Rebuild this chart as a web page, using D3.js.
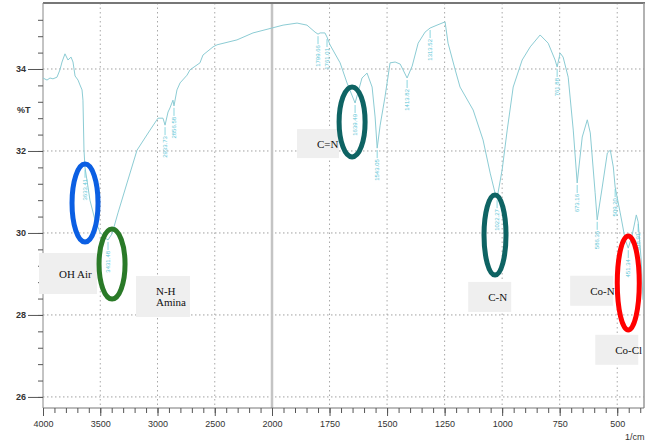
<!DOCTYPE html>
<html>
<head>
<meta charset="utf-8">
<script src="https://cdn.jsdelivr.net/npm/d3@7"></script>
<style>
  body { margin: 0; background: #fff; }
  svg { display: block; }
</style>
</head>
<body>
<div id="graph"></div>
<script>
// spectrum (wavenumber 1/cm, %T)
const wavenumbers = [4000, 3965, 3939, 3913, 3878, 3852, 3834, 3808, 3782, 3755, 3738, 3720, 3694, 3677, 3659, 3651,
  3642, 3633, 3616, 3590, 3546, 3502, 3458, 3432, 3397, 3345, 3266, 3179, 3065, 2996, 2952, 2934, 2908, 2891, 2865,
  2856, 2830, 2803, 2742, 2716, 2629, 2603, 2515, 2480, 2306, 2166, 2000, 1952, 1891, 1848, 1813, 1800, 1791, 1770,
  1761, 1748, 1704, 1674, 1639, 1609, 1587, 1565, 1552, 1543, 1530, 1509, 1487, 1465, 1443, 1413, 1391, 1365, 1335,
  1313, 1283, 1248, 1235, 1204, 1183, 1126, 1083, 1052, 1031, 1022, 1000, 978, 952, 913, 878, 835, 800, 770, 761,
  748, 735, 713, 691, 674, 652, 630, 617, 596, 587, 565, 543, 530, 517, 509, 487, 465, 452, 435, 417, 409, 396, 388]
const transmittance = [33.78, 33.73, 33.78, 33.76, 33.80, 33.98, 34.17, 34.37, 34.22, 34.29, 34.17, 33.83, 33.73, 33.61, 33.49, 33.24,
  32.02, 31.59, 31.29, 30.80, 30.32, 30.02, 29.88, 29.83, 29.98, 30.49, 31.22, 32.02, 32.51, 32.80, 32.80, 32.63, 32.95, 33.05, 33.24,
  33.10, 33.49, 33.66, 33.85, 33.98, 34.15, 34.34, 34.54, 34.59, 34.71, 34.88, 35.00, 35.07, 35.12, 35.07, 34.90, 34.85, 34.88, 34.88,
  34.78, 34.59, 34.15, 33.66, 33.17, 33.78, 33.90, 33.56, 32.83, 32.07, 32.63, 33.32, 34.15, 34.17, 34.12, 33.78, 34.07, 34.63, 34.90,
  35.00, 35.07, 35.15, 34.63, 33.98, 33.56, 33.00, 32.27, 31.46, 30.98, 30.85, 31.54, 32.51, 33.56, 34.22, 34.54, 34.83, 34.63, 34.22, 34.05,
  34.39, 34.29, 33.80, 32.51, 31.22, 32.34, 32.76, 32.44, 30.98, 30.32, 31.12, 31.95, 32.02, 31.61, 31.12, 30.49, 29.83, 29.63, 29.95, 30.44, 30.27, 29.34, 28.37]

// peak picks printed by the instrument
const peakWn = [3633, 3432, 2934, 2856, 1800, 1761, 1639, 1543, 1413, 1313, 1022, 761, 674, 587, 509, 452, 409]
const peakT = [31.59, 29.83, 32.63, 33.10, 34.85, 34.78, 33.17, 32.07, 33.78, 35.00, 30.85, 34.05, 31.22, 30.32, 31.12, 29.63, 30.27]
const peakText = ['3633.41', '3431.48', '2933.73', '2856.58', '1799.66', '1761.01', '1639.49', '1543.05',
  '1413.82', '1313.52', '1022.27', '761.88', '673.16', '586.36', '509.20', '451.34', '408.91']

// band assignments
const bandText = [['OH Air'], ['N-H', 'Amina'], ['C=N'], ['C-N'], ['Co-N'], ['Co-Cl']]
const bandWn = [3782, 2952, 1800, 1054, 611, 502]
const bandT = [29.01, 28.45, 32.18, 28.44, 28.59, 27.15]
const bandSize = [[58, 41], [54, 41], [42, 29], [43, 30], [43, 30], [43, 30]]

// rings drawn over the bands
const ringWn = [3633, 3397, 1652, 1031, 452]
const ringT = [30.73, 29.24, 32.71, 29.95, 28.78]
const ringR = [[13, 39], [13, 35], [13, 35], [11, 40], [11, 47]]
const ringColour = ['#0b5fe3', '#2a7a28', '#0e6363', '#0e6363', '#ff0000']

const xMajor = [4000, 3500, 3000, 2500, 2000, 1750, 1500, 1250, 1000, 750, 500]
const yMajor = [26, 28, 30, 32, 34]

const width = 654, height = 447
const plotL = 43, plotR = 644, plotT = 3, plotB = 408

const x = d3.scaleLinear().domain([4000, 2000, 388]).range([plotL, 272, 643])
const y = d3.scaleLinear().domain([25.73, 35.61]).range([plotB, plotT])

const svg = d3.select('#graph').append('svg')
  .attr('width', width)
  .attr('height', height)

// minor ticks: 100 apart above 2000, 50 apart below
const xMinor = d3.range(4000, 2000, -100).concat(d3.range(2000, 399, -50))
const yMinor = d3.range(26, 35.4, 0.4)

// grid
svg.append('g').selectAll('line')
  .data(yMajor)
  .enter().append('line')
  .attr('x1', plotL).attr('x2', plotR)
  .attr('y1', d => y(d)).attr('y2', d => y(d))
  .attr('stroke', '#a0a0a0')
  .attr('stroke-dasharray', '1.5,2.5')

svg.append('g').selectAll('line')
  .data(xMajor.filter(d => d !== 4000 && d !== 2000))
  .enter().append('line')
  .attr('x1', d => x(d)).attr('x2', d => x(d))
  .attr('y1', plotT).attr('y2', plotB)
  .attr('stroke', '#a8a8a8')
  .attr('stroke-dasharray', '1.5,3')

svg.append('line')
  .attr('x1', x(2000)).attr('x2', x(2000))
  .attr('y1', plotT).attr('y2', plotB)
  .attr('stroke', '#c4c4c4')
  .attr('stroke-width', 2.5)

// frame
svg.append('line').attr('x1', plotL).attr('x2', plotR + 1).attr('y1', plotT).attr('y2', plotT)
  .attr('stroke', '#777').attr('stroke-width', 2)
svg.append('line').attr('x1', plotR).attr('x2', plotR).attr('y1', plotT).attr('y2', plotB)
  .attr('stroke', '#999').attr('stroke-width', 1.5)
svg.append('line').attr('x1', plotL).attr('x2', plotL).attr('y1', plotT).attr('y2', plotB)
  .attr('stroke', '#888')
svg.append('line').attr('x1', plotL).attr('x2', plotR).attr('y1', plotB).attr('y2', plotB)
  .attr('stroke', '#777')

// axes
const xAxis = svg.append('g').attr('transform', 'translate(0,' + plotB + ')')
xAxis.append('g').call(d3.axisBottom(x).tickValues(xMinor).tickSize(5).tickFormat(''))
xAxis.append('g').call(d3.axisBottom(x).tickValues(xMajor).tickSize(8).tickPadding(5).tickFormat(d3.format('d')))
xAxis.selectAll('.domain').remove()
xAxis.selectAll('line').attr('stroke', '#555')
xAxis.selectAll('text').attr('font-family', 'Liberation Sans Narrow, Liberation Sans, sans-serif')
  .attr('font-size', 9).attr('fill', '#333')

const yAxis = svg.append('g').attr('transform', 'translate(' + plotL + ',0)')
yAxis.append('g').call(d3.axisLeft(y).tickValues(yMinor).tickSize(5).tickFormat(''))
yAxis.append('g').call(d3.axisLeft(y).tickValues(yMajor).tickSize(15).tickPadding(2).tickFormat(d3.format('d')))
yAxis.selectAll('.domain').remove()
yAxis.selectAll('line').attr('stroke', '#555')
yAxis.selectAll('text').attr('font-family', 'Liberation Sans Narrow, Liberation Sans, sans-serif')
  .attr('font-size', 9).attr('font-weight', 'bold').attr('fill', '#333')

svg.append('text').text('%T')
  .attr('x', 17).attr('y', 113)
  .attr('font-family', 'Liberation Sans Narrow, Liberation Sans, sans-serif')
  .attr('font-size', 9).attr('font-weight', 'bold').attr('fill', '#333')

svg.append('text').text('1/cm')
  .attr('x', 625).attr('y', 440)
  .attr('font-family', 'Liberation Sans Narrow, Liberation Sans, sans-serif')
  .attr('font-size', 9).attr('fill', '#333')

// spectrum
const line = d3.line()
  .x(d => x(d[0]))
  .y(d => y(d[1]))

svg.append('path')
  .datum(d3.zip(wavenumbers, transmittance))
  .attr('d', line)
  .attr('fill', 'none')
  .attr('stroke', '#8cccd4')
  .attr('stroke-width', 1)

// peak picks
const peaks = svg.append('g').selectAll('g')
  .data(d3.zip(peakWn, peakT, peakText))
  .enter().append('g')
  .attr('transform', d => 'translate(' + x(d[0]) + ',' + (y(d[1]) + 2) + ')')

peaks.append('line')
  .attr('y1', 0).attr('y2', 8)
  .attr('stroke', '#6fcbd8').attr('stroke-width', 0.8)

peaks.append('text')
  .text(d => d[2])
  .attr('transform', 'translate(2,9) rotate(-90)')
  .attr('text-anchor', 'end')
  .attr('font-family', 'Liberation Sans Narrow, Liberation Sans, sans-serif')
  .attr('font-size', 6)
  .attr('fill', '#5cc6d6')

// band boxes
const bands = svg.append('g').selectAll('g')
  .data(d3.range(bandText.length))
  .enter().append('g')
  .attr('transform', i => 'translate(' + (x(bandWn[i]) - bandSize[i][0] / 2) + ',' + (y(bandT[i]) - bandSize[i][1] / 2) + ')')

bands.append('rect')
  .attr('width', i => bandSize[i][0])
  .attr('height', i => bandSize[i][1])
  .attr('fill', '#efefef')

bands.append('text')
  .attr('font-family', 'Liberation Serif, serif')
  .attr('font-size', 11)
  .attr('fill', '#111')
  .selectAll('tspan')
  .data(i => bandText[i].map(t => [t, bandText[i].length, bandSize[i][1]]))
  .enter().append('tspan')
  .attr('x', 20)
  .attr('y', (d, j) => d[2] / 2 + 4 + (j - (d[1] - 1) / 2) * 11)
  .text(d => d[0])

// rings
svg.append('g').selectAll('ellipse')
  .data(d3.range(ringWn.length))
  .enter().append('ellipse')
  .attr('cx', i => x(ringWn[i]))
  .attr('cy', i => y(ringT[i]))
  .attr('rx', i => ringR[i][0])
  .attr('ry', i => ringR[i][1])
  .attr('fill', 'none')
  .attr('stroke', i => ringColour[i])
  .attr('stroke-width', 5)
</script>
</body>
</html>
